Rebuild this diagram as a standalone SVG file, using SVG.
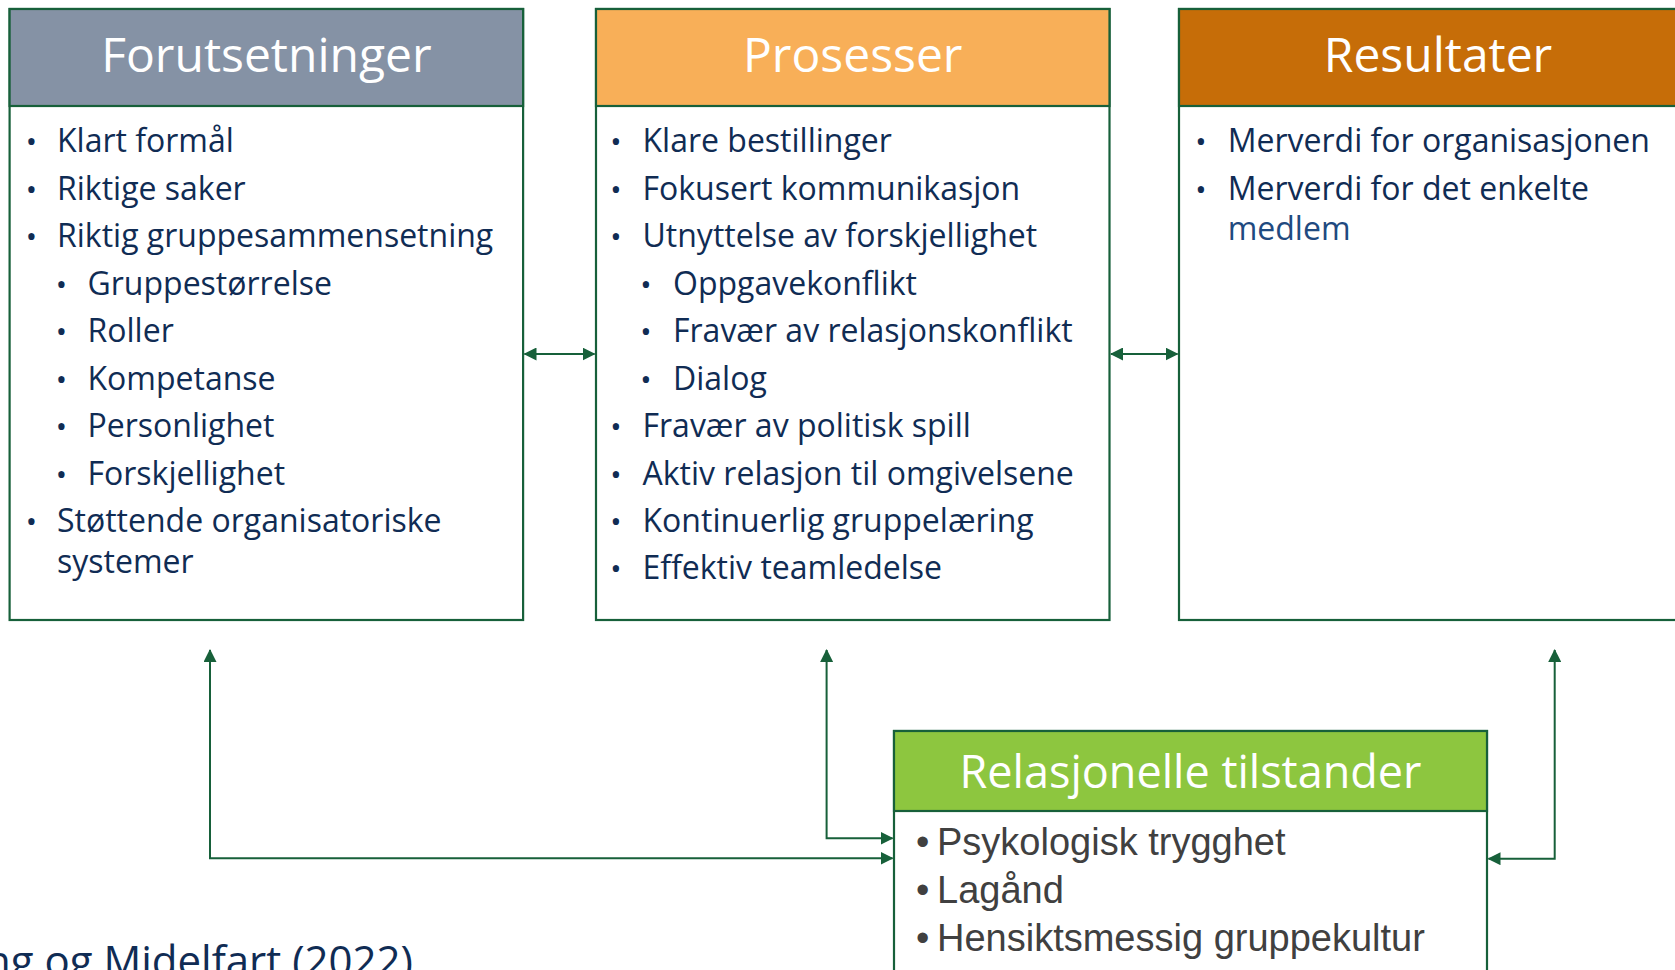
<svg xmlns="http://www.w3.org/2000/svg" width="1675" height="970" viewBox="0 0 1675 970">
  <style>
    .frame { fill: #ffffff; stroke: #17603A; stroke-width: 2.2; }
    .hdr { stroke: #17603A; stroke-width: 2.2; }
    .title { font-family: "Open Sans", Lato, sans-serif; font-size: 48px; fill: #ffffff; text-anchor: middle; }
    .item { font-family: "Open Sans", Lato, sans-serif; font-size: 32px; fill: #102C54; }
    .dot { font-family: "Open Sans", Lato, sans-serif; font-size: 30px; fill: #102C54; text-anchor: middle; }
    .state { font-family: "Liberation Sans", Arial, sans-serif; font-size: 38px; fill: #404040; }
    .wire { fill: none; stroke: #17603A; stroke-width: 2; }
  </style>
  <defs>
    <marker id="head" viewBox="0 0 13 13" refX="12" refY="6.5" markerWidth="13" markerHeight="13" markerUnits="userSpaceOnUse" orient="auto-start-reverse">
      <path d="M0,0 L13,6.5 L0,13 Z" fill="#17603A"/>
    </marker>
  </defs>

  <rect width="1675" height="970" fill="#ffffff"/>

  <!-- Forutsetninger -->
  <g id="forutsetninger">
    <rect class="frame" x="9.6" y="9" width="513.5" height="611"/>
    <rect class="hdr" x="9.6" y="9" width="513.5" height="97" fill="#8592A5"/>
    <text class="title" x="266.4" y="72">Forutsetninger</text>
    <text class="dot" x="31.5" y="152">•</text><text class="item" x="57" y="152">Klart formål</text>
    <text class="dot" x="31.5" y="199.5">•</text><text class="item" x="57" y="199.5">Riktige saker</text>
    <text class="dot" x="31.5" y="247">•</text><text class="item" x="57" y="247">Riktig gruppesammensetning</text>
    <text class="dot" x="61.5" y="294.5">•</text><text class="item" x="87.5" y="294.5">Gruppestørrelse</text>
    <text class="dot" x="61.5" y="342">•</text><text class="item" x="87.5" y="342">Roller</text>
    <text class="dot" x="61.5" y="389.5">•</text><text class="item" x="87.5" y="389.5">Kompetanse</text>
    <text class="dot" x="61.5" y="437">•</text><text class="item" x="87.5" y="437">Personlighet</text>
    <text class="dot" x="61.5" y="484.5">•</text><text class="item" x="87.5" y="484.5">Forskjellighet</text>
    <text class="dot" x="31.5" y="532">•</text><text class="item" x="57" y="532">Støttende organisatoriske</text>
    <text class="item" x="57" y="573">systemer</text>
  </g>

  <!-- Prosesser -->
  <g id="prosesser">
    <rect class="frame" x="596" y="9" width="513.5" height="611"/>
    <rect class="hdr" x="596" y="9" width="513.5" height="97" fill="#F8AF58"/>
    <text class="title" x="852.7" y="72">Prosesser</text>
    <text class="dot" x="616" y="152">•</text><text class="item" x="642.5" y="152">Klare bestillinger</text>
    <text class="dot" x="616" y="199.5">•</text><text class="item" x="642.5" y="199.5">Fokusert kommunikasjon</text>
    <text class="dot" x="616" y="247">•</text><text class="item" x="642.5" y="247">Utnyttelse av forskjellighet</text>
    <text class="dot" x="646" y="294.5">•</text><text class="item" x="673" y="294.5">Oppgavekonflikt</text>
    <text class="dot" x="646" y="342">•</text><text class="item" x="673" y="342">Fravær av relasjonskonflikt</text>
    <text class="dot" x="646" y="389.5">•</text><text class="item" x="673" y="389.5">Dialog</text>
    <text class="dot" x="616" y="437">•</text><text class="item" x="642.5" y="437">Fravær av politisk spill</text>
    <text class="dot" x="616" y="484.5">•</text><text class="item" x="642.5" y="484.5">Aktiv relasjon til omgivelsene</text>
    <text class="dot" x="616" y="532">•</text><text class="item" x="642.5" y="532">Kontinuerlig gruppelæring</text>
    <text class="dot" x="616" y="579">•</text><text class="item" x="642.5" y="579">Effektiv teamledelse</text>
  </g>

  <!-- Resultater -->
  <g id="resultater">
    <rect class="frame" x="1179" y="9" width="513.5" height="611"/>
    <rect class="hdr" x="1179" y="9" width="513.5" height="97" fill="#C66D08"/>
    <text class="title" x="1438" y="72">Resultater</text>
    <text class="dot" x="1201" y="152">•</text><text class="item" x="1227.7" y="152">Merverdi for organisasjonen</text>
    <text class="dot" x="1201" y="199.5">•</text><text class="item" x="1227.7" y="199.5">Merverdi for det enkelte</text>
    <text class="item" x="1227.7" y="240" style="fill:#1F4A80">medlem</text>
  </g>

  <!-- Relasjonelle tilstander -->
  <g id="relasjonelle">
    <rect class="frame" x="894" y="731" width="593" height="260"/>
    <rect class="hdr" x="894" y="731" width="593" height="80" fill="#8DC63F"/>
    <text class="title" x="1190.5" y="788" style="font-size:45px">Relasjonelle tilstander</text>
    <text class="state" x="916" y="855">•</text><text class="state" x="937" y="855">Psykologisk trygghet</text>
    <text class="state" x="916" y="903.3">•</text><text class="state" x="937" y="903.3">Lagånd</text>
    <text class="state" x="916" y="950.7">•</text><text class="state" x="937" y="950.7">Hensiktsmessig gruppekultur</text>
  </g>

  <!-- Connectors -->
  <g id="connectors">
    <line class="wire" x1="524.5" y1="354" x2="594.5" y2="354" marker-start="url(#head)" marker-end="url(#head)"/>
    <line class="wire" x1="1111" y1="354" x2="1177.5" y2="354" marker-start="url(#head)" marker-end="url(#head)"/>
    <polyline class="wire" points="210,650 210,858.3 892.5,858.3" marker-start="url(#head)" marker-end="url(#head)"/>
    <polyline class="wire" points="826.6,650 826.6,838.3 892.5,838.3" marker-start="url(#head)" marker-end="url(#head)"/>
    <polyline class="wire" points="1554.7,650 1554.7,858.7 1488.5,858.7" marker-start="url(#head)" marker-end="url(#head)"/>
  </g>

  <!-- Source reference -->
  <text class="item" x="413" y="976" text-anchor="end" style="font-size:42px">ng og Midelfart (2022)</text>
</svg>
